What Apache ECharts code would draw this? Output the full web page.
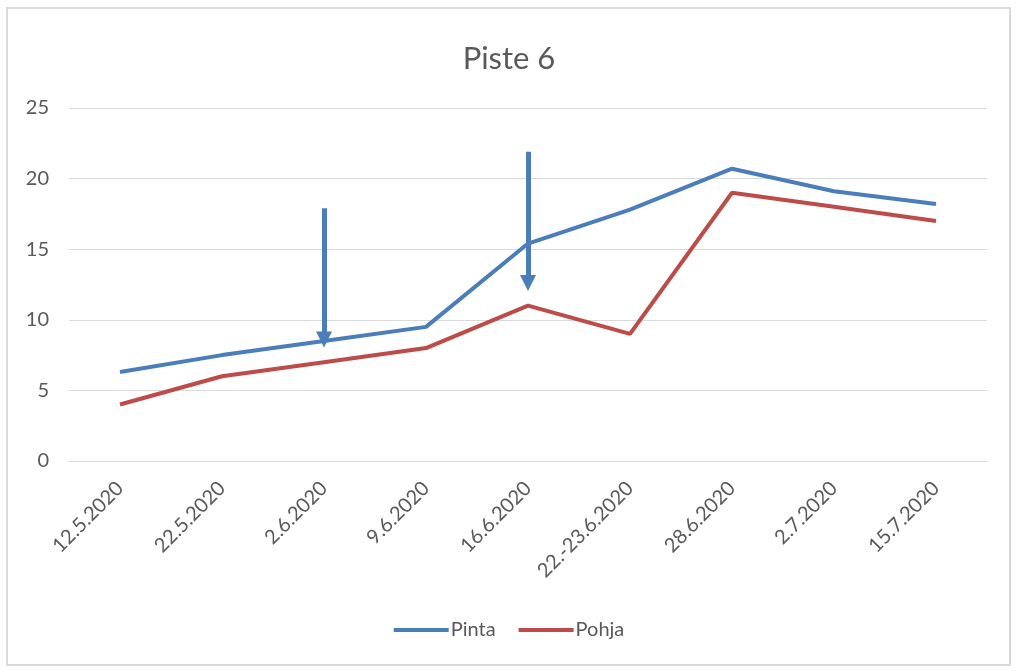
<!DOCTYPE html>
<html>
<head>
<meta charset="utf-8">
<script src="https://cdn.jsdelivr.net/npm/echarts@6/dist/echarts.min.js"></script>
<style>
  html, body { margin: 0; padding: 0; background: #fff; }
  #chart { width: 1018px; height: 671px; }
</style>
</head>
<body>
<div id="chart"></div>
<script>
// data
var dates = ['12.5.2020', '22.5.2020', '2.6.2020', '9.6.2020', '16.6.2020',
             '22.-23.6.2020', '28.6.2020', '2.7.2020', '15.7.2020'];
var pinta = [6.3, 7.5, 8.5, 9.5, 15.4, 17.8, 20.7, 19.1, 18.2];
var pohja = [4.0, 6.0, 7.0, 8.0, 11.0, 9.0, 19.0, 18.0, 17.0];
// arrows drawn on the chart: [category, from value, to value]
var arrows = [['2.6.2020', 17.9, 8.6], ['16.6.2020', 21.9, 12.6]];

var fontName = 'Lato, "Liberation Sans", sans-serif';
var textColor = '#595959';

var chart = echarts.init(document.getElementById('chart'));

var arrowLines = arrows.map(function (a) {
    return [{coord: [a[0], a[1]]}, {coord: [a[0], a[2]]}];
});

var option = {
    animation: false,
    textStyle: {fontFamily: fontName},
    title: {
        text: 'Piste 6',
        left: 'center',
        top: 38,
        textStyle: {fontFamily: fontName, fontSize: 31, fontWeight: 'normal', color: textColor}
    },
    graphic: [{
        type: 'rect',
        shape: {x: 7, y: 8, width: 1003, height: 657},
        style: {fill: 'none', stroke: '#d9d9d9', lineWidth: 2},
        z: -1
    }],
    legend: {
        bottom: 26,
        left: 'center',
        icon: 'rect',
        itemWidth: 55,
        itemHeight: 4,
        itemGap: 23,
        textStyle: {fontFamily: fontName, fontSize: 20, color: textColor, padding: [0, 0, 0, -3]},
        data: ['Pinta', 'Pohja']
    },
    grid: {left: 69, right: 31, top: 108, bottom: 210, containLabel: false},
    xAxis: {
        type: 'category',
        data: dates,
        boundaryGap: true,
        axisLine: {lineStyle: {color: '#d9d9d9', width: 1}},
        axisTick: {show: false},
        axisLabel: {rotate: 45, margin: 24, fontSize: 20, color: textColor, fontFamily: fontName}
    },
    yAxis: {
        type: 'value',
        min: 0,
        max: 25,
        interval: 5,
        axisLine: {show: false},
        axisTick: {show: false},
        axisLabel: {margin: 20, fontSize: 20, color: textColor, fontFamily: fontName},
        splitLine: {lineStyle: {color: '#d9d9d9', width: 1}}
    },
    series: [{
        name: 'Pinta',
        type: 'line',
        data: pinta,
        symbol: 'none',
        color: '#4a7ebb',
        lineStyle: {width: 4, color: '#4a7ebb'},
        markLine: {
            silent: true,
            symbol: ['none', 'triangle'],
            symbolSize: [16, 16],
            label: {show: false},
            lineStyle: {color: '#4a7ebb', width: 5, type: 'solid'},
            data: arrowLines
        },
        z: 3
    }, {
        name: 'Pohja',
        type: 'line',
        data: pohja,
        symbol: 'none',
        color: '#be4b48',
        lineStyle: {width: 4, color: '#be4b48'},
        z: 2
    }]
};

chart.setOption(option);
</script>
</body>
</html>
